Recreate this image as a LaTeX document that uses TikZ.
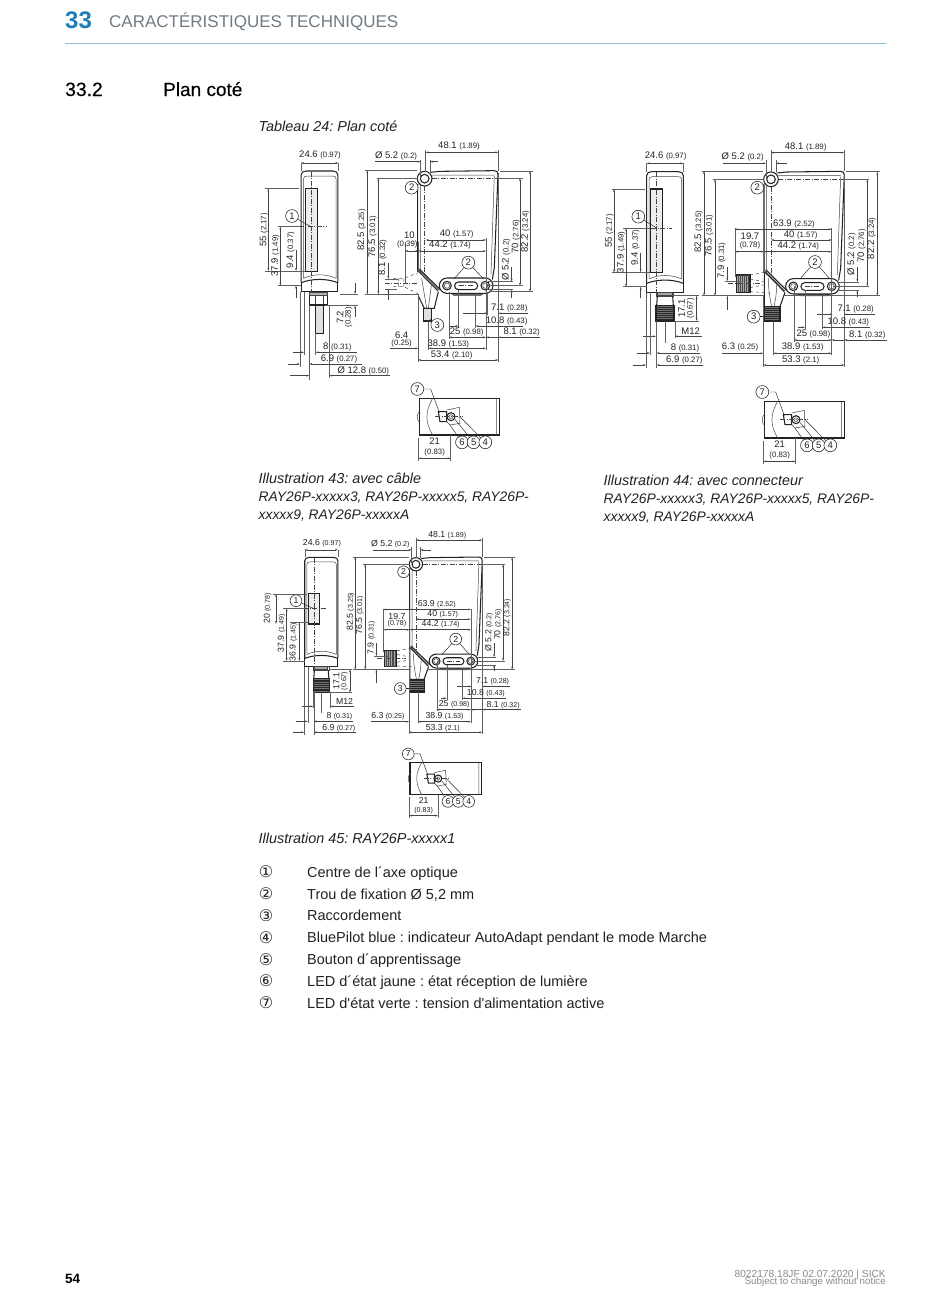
\documentclass[tikz,border=0pt]{standalone}
\usepackage{fontspec}
\setmainfont{Liberation Sans}[Ligatures=TeXOff]
\newfontfamily\symfont{DejaVu Sans}
\newfontfamily\medfont{Liberation Sans}[FakeBold=0.25]
\usetikzlibrary{arrows.meta}
\definecolor{sickblue}{HTML}{1F7DB8}
\definecolor{headgray}{HTML}{6F7B85}
\definecolor{rulecol}{HTML}{8ABBDC}
\definecolor{ink}{HTML}{222222}
\definecolor{dimcol}{HTML}{444444}
\definecolor{footgray}{HTML}{8A8A8A}
\newcounter{nn}
\def\fs{9.5}\def\fss{7.8}\def\zs{0.3333}
\newcommand\smv[1]{{\fontsize{\fss}{\fss}\selectfont #1}}
\newcommand\lab[2]{\stepcounter{nn}\node[dimtext] (n\thenn) at (#1) {#2};}
\newcommand\vlab[2]{\stepcounter{nn}\node[dimtext,rotate=90] (n\thenn) at (#1) {#2};}
\newcommand\call[3]{\node[callout] (#1) at (#2) {#3};}
\newcommand\hdim[3]{\draw[dimline,{Stealth[length=3pt,width=1.8pt]}-{Stealth[length=3pt,width=1.8pt]}] (#2,#1) -- (#3,#1);}
\newcommand\vdim[3]{\draw[dimline,{Stealth[length=3pt,width=1.8pt]}-{Stealth[length=3pt,width=1.8pt]}] (#1,#2) -- (#1,#3);}
\newcommand\hout[5]{\draw[dimline,-{Stealth[length=3pt,width=1.8pt]}] (#2,#1) -- (#3,#1);\draw[dimline,-{Stealth[length=3pt,width=1.8pt]}] (#5,#1) -- (#4,#1);}
\newcommand\vout[5]{\draw[dimline,-{Stealth[length=3pt,width=1.8pt]}] (#1,#2) -- (#1,#3);\draw[dimline,-{Stealth[length=3pt,width=1.8pt]}] (#1,#5) -- (#1,#4);}
\newcommand\ext[2]{\draw[extline] (#1) -- (#2);}
\newcommand\sidebody[2]{%
  \draw[thin1] (147,432) -- (147,135) .. controls (147,128) and (150,125) .. (157,125) -- (235,125) .. controls (242,125) and (245,128) .. (245,135) -- (245,432);
  \draw[thin1] (147,432) .. controls (175,418) and (215,418) .. (245,432);
  \draw[bodyline] (140,445) -- (140,122) .. controls (140,114) and (146,110) .. (155,110) -- (235,110) .. controls (244,110) and (250,114) .. (250,122) -- (250,445);
  \draw[bodyline] (140,445) .. controls (175,432) and (215,432) .. (250,445);
  \draw[bodyline] (140,445) -- (140,472) -- (250,472) -- (250,445);
  \draw[bodyline,fill=black!7] (152,#1) rectangle (188,#2);
  \draw[cline] (170,112) -- (170,472);
}
\newcommand\frontbody{%
  \draw[thin1] (535,122) -- (722,122) (722,125) -- (712,420) (500,152) -- (500,420);
  \draw[bodyline] (492,412) -- (492,150) (530,114) -- (560,111) -- (722,109) .. controls (730,109) and (733,113) .. (733,120) -- (722,400) -- (716,436);
  \draw[cline] (535,133) -- (805,133) (513,155) -- (513,420);
  \draw[bodyline,fill=white] (513,133) circle[radius=22];
  \draw[bodyline] (513,133) circle[radius=13];
  \draw[thin1,fill=black!60] (590,475) -- (600,483) -- (682,483) -- (692,475) -- cycle;
  \draw[bodyline,fill=white,rounded corners=\zs*23pt] (557,431) rectangle (718,477);
  \foreach \c in {580,695}{\draw[bodyline] (\c,454) circle[radius=13];\draw[thin1] (\c,454) circle[radius=8];}
  \draw[bodyline,rounded corners=\zs*11pt] (603,443) rectangle (672,466);
  \draw[cline] (615,454) -- (660,454);
  \draw[bodyline] (492,408) -- (553,470) (497,404) -- (560,466);
  \draw[thin1] (494,406) -- (556,468);
}
\newcommand\detailbox{%
  \draw[bodyline] (58,70) rectangle (298,180);
  \draw[thin1] (290,70) -- (290,180) (98,70) .. controls (75,110) and (75,140) .. (98,180);
  \draw[thin1] (58,110) .. controls (50,115) and (50,135) .. (58,142);
  \draw[bodyline] (115,110) -- (140,110) -- (140,140) -- (120,140) -- cycle;
  \draw[thin1] (140,105) -- (178,97) -- (180,145) -- (150,150) -- (140,140);
  \draw[bodyline] (153,125) circle[radius=12];
  \draw[thin1] (153,125) circle[radius=6];
  \draw[cline] (105,125) -- (190,125);
  \call{d7}{52,42}{7}\call{d6}{186,202}{6}\call{d5}{221,202}{5}\call{d4}{256,202}{4}
  \coordinate (d7e) at (118,112);\coordinate (d6e) at (150,150);\coordinate (d5e) at (165,133);\coordinate (d4e) at (180,125);
  \draw[lead] (d7) -- (92,42) -- (d7e);
  \draw[lead] (d6) -- (d6e);\draw[lead] (d5) -- (d5e);\draw[lead] (d4) -- (d4e);
  \ext{55,188}{55,258}\ext{152,180}{152,258}
  \hdim{250}{55}{152}
  \lab{104,200}{21}\lab{104,233}{\smv{(0.83)}}
}
\newcommand\connectorview{%
  \draw[thin1] (168,472) rectangle (220,484);
  \draw[thin1,fill=black!35] (172,472) rectangle (216,480);
  \draw[bodyline] (172,484) -- (170,512) (218,484) -- (220,512);
  \draw[bodyline,fill=black!55] (168,512) rectangle (222,558);
  \foreach \y in {516,522,...,556}{\draw[line width=.4pt,black!85] (168,\y) -- (222,\y);}
  \ext{140,85}{140,110}\ext{250,85}{250,110}
  \hdim{85}{140}{250}
  \lab{197,62}{24.6 \smv{(0.97)}}
  \ext{220,482}{298,482}\ext{222,558}{298,558}
  \vdim{290}{482}{558}
  \vlab{245,520}{17.1}\vlab{272,520}{\smv{(0.67)}}
  \ext{168,558}{168,610}\ext{225,558}{225,610}
  \hout{604}{130}{168}{225}{305}
  \lab{272,589}{M12}
  \ext{150,472}{150,660}\ext{170,558}{170,698}\ext{138,472}{138,698}\ext{195,558}{195,625}
  \hout{654}{110}{150}{170}{300}
  \lab{255,638}{8 \smv{(0.31)}}
  \hout{690}{100}{138}{170}{310}
  \lab{253,675}{6.9 \smv{(0.27)}}
}
\newcommand\connectorfront{%
  \frontbody
  \draw[bodyline] (493,412) -- (493,515) -- (540,515) -- (555,472);
  \draw[thin1] (505,430) .. controls (505,470) and (512,500) .. (515,515) (530,450) .. controls (530,480) and (525,500) .. (522,515);
  \draw[bodyline,fill=black!55] (493,515) rectangle (540,558);
  \foreach \y in {519,525,...,555}{\draw[line width=.4pt,black!85] (493,\y) -- (540,\y);}
  \draw[dashed,thin1] (450,420) -- (493,412) (450,470) -- (510,474) (450,432) -- (490,440) (450,458) -- (490,450);
  \draw[bodyline,fill=black!35] (410,420) rectangle (450,472);
  \foreach \x in {415,421,...,445}{\draw[line width=.4pt,black!70] (\x,420) -- (\x,472);}
  \draw[cline] (385,446) -- (480,446);
  \ext{513,45}{513,112}\ext{733,45}{733,108}
  \hdim{53}{513}{733}
  \lab{617,35}{48.1 \smv{(1.89)}}
  \ext{498,75}{498,130}\ext{528,75}{528,112}
  \hout{85}{370}{498}{528}{562}
  \lab{428,65}{Ø 5.2 \smv{(0.2)}}
  \ext{305,108}{490,108}\ext{305,482}{493,482}
  \vdim{312}{108}{482}
  \vlab{296,290}{82.5 \smv{(3.25)}}
  \ext{338,133}{492,133}
  \vdim{345}{133}{482}
  \vlab{327,302}{76.5 \smv{(3.01)}}
  \ext{375,438}{420,438}\ext{375,482}{410,482}
  \vout{382}{395}{438}{482}{525}
  \vlab{365,377}{7.9 \smv{(0.31)}}
  \ext{405,280}{405,425}\ext{492,280}{492,412}
  \hdim{283}{405}{695}
  \hdim{350}{405}{492}
  \lab{450,305}{19.7}\lab{450,331}{\smv{(0.78)}}
  \lab{582,267}{63.9 \smv{(2.52)}}
  \hdim{315}{513}{695}
  \lab{602,300}{40 \smv{(1.57)}}
  \hdim{350}{492}{695}
  \lab{595,333}{44.2 \smv{(1.74)}}
  \ext{695,280}{695,430}
  \call{a2}{472,158}{2}\call{b2}{645,381}{2}\call{c3}{461,545}{3}
  \coordinate (b2l) at (600,432);\coordinate (b2r) at (690,432);\coordinate (c3e) at (495,545);\coordinate (a2e) at (498,145);
  \draw[lead] (a2) -- (a2e);\draw[lead] (b2) -- (b2l);\draw[lead] (b2) -- (b2r);\draw[lead] (c3) -- (c3e);
  \ext{715,441}{778,441}\ext{715,466}{778,466}
  \vout{772}{395}{441}{466}{486}
  \vlab{755,358}{Ø 5.2 \smv{(0.2)}}
  \ext{735,133}{808,133}\ext{700,454}{808,454}
  \vdim{802}{133}{454}
  \vlab{785,333}{70 \smv{(2.76)}}
  \ext{738,110}{840,110}\ext{550,482}{840,482}
  \vdim{832}{110}{482}
  \vlab{815,310}{82.2 \smv{(3.24)}}
  \ext{733,120}{733,695}
  \hout{538}{650}{698}{733}{825}
  \lab{767,522}{7.1 \smv{(0.28)}}
  \ext{615,466}{615,582}\ext{667,482}{667,582}
  \hout{577}{595}{615}{667}{810}
  \lab{745,562}{10.8 \smv{(0.43)}}
  \ext{582,454}{582,620}\ext{695,430}{695,660}
  \hdim{615}{582}{695}
  \lab{640,598}{25 \smv{(0.98)}}
  \draw[dimline,-{Stealth[length=3pt,width=1.8pt]}] (860,615) -- (733,615);
  \draw[dimline,-{Stealth[length=3pt,width=1.8pt]}] (733,615) -- (695,615);
  \lab{802,600}{8.1 \smv{(0.32)}}
  \ext{490,482}{490,695}\ext{520,558}{520,660}
  \hdim{655}{520}{695}
  \draw[dimline,-{Stealth[length=3pt,width=1.8pt]}] (365,655) -- (490,655);
  \lab{608,637}{38.9 \smv{(1.53)}}
  \lab{420,637}{6.3 \smv{(0.25)}}
  \hdim{690}{490}{733}
  \lab{602,675}{53.3 \smv{(2.1)}}
}
\tikzset{
  bodyline/.style={draw=ink,line width=1.05pt},
  thin1/.style={draw=dimcol,line width=.5pt},
  cline/.style={draw=dimcol,line width=.4pt,dash pattern=on 5pt off 1.5pt on 1pt off 1.5pt},
  dimline/.style={draw=dimcol,line width=.45pt},
  extline/.style={draw=dimcol!85,line width=.38pt},
  lead/.style={draw=ink,line width=.45pt},
  dimtext/.style={inner sep=0pt,text=ink,font=\fontsize{\fs}{\fs}\selectfont},
  callout/.style={circle,draw=ink,line width=.55pt,fill=white,inner sep=0pt,minimum size=\fs*1.35pt,text=ink,font=\fontsize{\fs}{\fs}\selectfont},
  body14/.style={anchor=base west,inner sep=0pt,text=ink,font=\fontsize{14.5}{16}\selectfont},
  cap14/.style={anchor=base west,inner sep=0pt,text=ink,font=\fontsize{14.4}{16}\selectfont\itshape},
  capref/.style={anchor=base west,inner sep=0pt,text=ink,font=\fontsize{13.85}{16}\selectfont\itshape},
  legnum/.style={anchor=base,inner sep=0pt,text=ink,font=\fontsize{16}{16}\symfont},
}
\begin{document}
\frenchspacing
\begin{tikzpicture}[x=1pt,y=-1pt]
\useasboundingbox (0,0) rectangle (950,1291);
\fill[white] (0,0) rectangle (950,1291);
\node[anchor=base west,inner sep=0pt,text=sickblue,font=\fontsize{24}{24}\selectfont\bfseries] (chap) at (65,28) {33};
\node[anchor=base west,inner sep=0pt,text=headgray,font=\fontsize{17}{20}\selectfont] (chaptitle) at (109,27) {CARACTÉRISTIQUES TECHNIQUES};
\draw[rulecol,line width=.8pt] (65,43.5) -- (886,43.5);
\node[anchor=base west,inner sep=0pt,text=black,font=\fontsize{19.3}{20}\medfont] (secnum) at (65,96) {33.2};
\node[anchor=base west,inner sep=0pt,text=black,font=\fontsize{19}{20}\medfont] (sectitle) at (163,96) {Plan coté};
\node[cap14] (tab) at (258.5,131) {Tableau 24: Plan coté};
% ILLUSTRATION 43
\begin{scope}[shift={(250pt,-135pt)},x=0.3333pt,y=-0.3333pt]
  \begin{scope}[shift={(13.5,-2)}]\sidebody{162}{412}\end{scope}
  \draw[cline] (120,275) -- (230,275);
  \draw[bodyline] (178,472) rectangle (232,510);
  \draw[thin1,fill=black!30] (178,472) rectangle (232,480);
  \draw[thin1] (197,480) -- (197,510) (220,480) -- (220,510);
  \draw[bodyline,fill=black!12] (197,510) rectangle (220,595);
  \ext{153,84}{153,108}\ext{265,84}{265,108}
  \hdim{84}{153}{265}
  \lab{210,60}{24.6 \smv{(0.97)}}
  \ext{45,160}{148,160}\ext{45,408}{165,408}
  \vdim{55}{160}{408}
  \vlab{42,285}{55 \smv{(2.17)}}
  \ext{85,275}{150,275}\ext{85,452}{153,452}
  \vdim{91}{275}{452}
  \vlab{76,362}{37.9 \smv{(1.49)}}
  \vout{138}{345}{408}{452}{488}
  \vlab{122,345}{9.4 \smv{(0.37)}}
  \call{s1}{126,243}{1}\coordinate (s1e) at (183,275);\draw[lead] (s1) -- (s1e);
  \ext{150,472}{150,695}\ext{162,472}{162,660}\ext{178,510}{178,735}\ext{197,595}{197,660}\ext{238,510}{238,728}
  \ext{270,477}{325,477}\ext{225,512}{325,512}
  \vout{315}{445}{477}{512}{545}
  \vlab{270,547}{7.2}\vlab{296,547}{\smv{(0.28)}}
  \hout{652}{130}{162}{197}{320}
  \lab{262,637}{8 \smv{(0.31)}}
  \hout{687}{115}{150}{178}{335}
  \lab{267,672}{6.9 \smv{(0.27)}}
  \hout{722}{120}{178}{238}{420}
  \lab{340,707}{Ø 12.8 \smv{(0.50)}}
  \begin{scope}[shift={(11,-2)}]\frontbody\end{scope}
  \draw[bodyline] (505,483) -- (523,520) -- (553,520) -- (565,470);
  \draw[thin1] (515,430) -- (530,520) (545,445) -- (535,520);
  \draw[bodyline,fill=black!12] (520,520) rectangle (545,558);
  \draw[dashed,thin1] (430,430) -- (462,430) -- (505,413) (430,455) -- (462,455) -- (505,477) (462,430) -- (462,455) (445,430) -- (445,455);
  \draw[cline] (405,446) -- (500,446);
  \ext{527,45}{527,112}\ext{745,45}{745,108}
  \hdim{52}{527}{745}
  \lab{627,33}{48.1 \smv{(1.89)}}
  \ext{512,75}{512,130}\ext{540,75}{540,112}
  \hout{80}{375}{512}{540}{565}
  \lab{438,64}{Ø 5.2 \smv{(0.2)}}
  \ext{345,106}{500,106}\ext{345,478}{505,478}
  \vdim{352}{106}{478}
  \vlab{335,285}{82.5 \smv{(3.25)}}
  \ext{380,130}{505,130}
  \vdim{385}{130}{478}
  \vlab{368,305}{76.5 \smv{(3.01)}}
  \ext{405,432}{445,432}\ext{405,462}{440,462}
  \vout{415}{385}{432}{462}{495}
  \vlab{398,368}{8.1 \smv{(0.32)}}
  \ext{465,322}{465,445}\ext{505,322}{505,408}\ext{708,310}{708,430}
  \hdim{348}{465}{505}
  \lab{478,302}{10}\lab{472,327}{\smv{(0.39)}}
  \hdim{315}{527}{708}
  \lab{620,298}{40 \smv{(1.57)}}
  \hdim{348}{505}{708}
  \lab{600,331}{44.2 \smv{(1.74)}}
  \call{t2}{485,158}{2}\call{u2}{655,383}{2}\call{v3}{562,570}{3}
  \coordinate (t2e) at (510,145);\coordinate (u2l) at (612,432);\coordinate (u2r) at (701,432);\coordinate (v3e) at (540,552);
  \draw[lead] (t2) -- (t2e);\draw[lead] (u2) -- (u2l);\draw[lead] (u2) -- (u2r);\draw[lead] (v3) -- (v3e);
  \ext{715,440}{790,440}\ext{715,462}{790,462}
  \vout{785}{395}{440}{464}{490}
  \vlab{768,375}{Ø 5.2 \smv{(0.2)}}
  \ext{745,130}{820,130}\ext{712,452}{820,452}
  \vdim{810}{130}{452}
  \vlab{798,305}{70 \smv{(2.76)}}
  \ext{750,108}{848,108}\ext{720,470}{848,470}
  \vdim{840}{108}{470}
  \vlab{826,290}{82.2 \smv{(3.24)}}
  \ext{745,115}{745,680}
  \hout{535}{640}{712}{745}{835}
  \lab{778,520}{7.1 \smv{(0.28)}}
  \ext{625,465}{625,578}\ext{677,482}{677,578}\ext{712,475}{712,540}
  \hout{573}{600}{625}{677}{820}
  \lab{770,558}{10.8 \smv{(0.43)}}
  \ext{597,470}{597,612}\ext{708,430}{708,645}
  \hdim{607}{597}{708}
  \lab{650,590}{25 \smv{(0.98)}}
  \draw[dimline,-{Stealth[length=3pt,width=1.8pt]}] (870,607) -- (745,607);
  \draw[dimline,-{Stealth[length=3pt,width=1.8pt]}] (745,607) -- (708,607);
  \lab{815,591}{8.1 \smv{(0.32)}}
  \ext{505,478}{505,680}\ext{535,558}{535,645}
  \hdim{640}{535}{708}
  \draw[dimline,-{Stealth[length=3pt,width=1.8pt]}] (420,640) -- (505,640);
  \lab{595,627}{38.9 \smv{(1.53)}}
  \lab{455,600}{6.4}\lab{455,625}{\smv{(0.25)}}
  \hdim{675}{505}{745}
  \lab{605,660}{53.4 \smv{(2.10)}}
\end{scope}
\begin{scope}[shift={(400pt,-375pt)},x=0.3333pt,y=-0.3333pt]\detailbox\end{scope}
% ILLUSTRATION 44
\begin{scope}[shift={(600pt,-135pt)},x=0.3333pt,y=-0.3333pt]
  \sidebody{162}{412}
  \draw[cline] (100,279) -- (215,279);
  \ext{35,162}{135,162}\ext{35,412}{150,412}
  \vdim{42}{162}{412}
  \vlab{28,288}{55 \smv{(2.17)}}
  \ext{70,279}{150,279}\ext{70,455}{140,455}
  \vdim{78}{279}{455}
  \vlab{63,352}{37.9 \smv{(1.49)}}
  \vout{122}{355}{412}{455}{490}
  \vlab{106,338}{9.4 \smv{(0.37)}}
  \call{p1}{115,245}{1}\coordinate (p1e) at (170,279);\draw[lead] (p1) -- (p1e);
  \connectorview
  \connectorfront
\end{scope}
\begin{scope}[shift={(745pt,-378pt)},x=0.3333pt,y=-0.3333pt]\detailbox\end{scope}
% ILLUSTRATION 45
\begin{scope}[shift={(262.5pt,-524.15pt)},x=0.3016pt,y=-0.3016pt]
  \def\fs{8.7}\def\fss{7.1}\def\zs{0.3016}
  \sidebody{229}{331}
  \connectorview
\end{scope}
\begin{scope}[shift={(261.2pt,-524.15pt)},x=0.3016pt,y=-0.3016pt]
  \def\fs{8.7}\def\fss{7.1}\def\zs{0.3016}
  \connectorfront
\end{scope}
\begin{scope}[shift={(250pt,-525pt)},x=0.3333pt,y=-0.3333pt]
  \def\fs{8.7}\def\fss{7.1}
  \draw[cline] (160,250) -- (232,250);
  \ext{70,207}{172,207}\ext{100,250}{165,250}\ext{100,408}{165,408}\ext{120,292}{175,292}
  \vdim{78}{207}{297}
  \vlab{53,250}{20 \smv{(0.78)}}
  \vdim{110}{250}{408}
  \vlab{95,325}{37.9 \smv{(1.49)}}
  \vdim{148}{292}{408}
  \vlab{130,352}{36.9 \smv{(1.45)}}
  \call{r1}{138,227}{1}\coordinate (r1e) at (190,250);\draw[lead] (r1) -- (r1e);
\end{scope}
\begin{scope}[shift={(392.8pt,-741.5pt)},x=0.2966pt,y=-0.2966pt]
  \def\fs{8.7}\def\fss{7.1}
  \detailbox
\end{scope}
% captions
\node[cap14] (c43a) at (258.5,483.5) {Illustration 43: avec câble};
\node[capref] (c43b) at (258.5,501.5) {RAY26P-xxxxx3, RAY26P-xxxxx5, RAY26P-};
\node[capref] (c43c) at (258.5,519.5) {xxxxx9, RAY26P-xxxxxA};
\node[cap14] (c44a) at (603.5,485.5) {Illustration 44: avec connecteur};
\node[capref] (c44b) at (603.5,503.5) {RAY26P-xxxxx3, RAY26P-xxxxx5, RAY26P-};
\node[capref] (c44c) at (603.5,521.5) {xxxxx9, RAY26P-xxxxxA};
\node[cap14] (c45) at (258.5,843) {Illustration 45: RAY26P-xxxxx1};
% legend
\node[legnum] (l1) at (266,877.5) {①};\node[body14] (t1) at (307,877) {Centre de l´axe optique};
\node[legnum] (l2) at (266,899.5) {②};\node[body14] (t2) at (307,899) {Trou de fixation Ø 5,2 mm};
\node[legnum] (l3) at (266,921) {③};\node[body14] (t3) at (307,920.5) {Raccordement};
\node[legnum] (l4) at (266,943) {④};\node[body14] (t4) at (307,942.5) {BluePilot blue : indicateur AutoAdapt pendant le mode Marche};
\node[legnum] (l5) at (266,965) {⑤};\node[body14] (t5) at (307,964.5) {Bouton d´apprentissage};
\node[legnum] (l6) at (266,986.5) {⑥};\node[body14] (t6) at (307,986) {LED d´état jaune : état réception de lumière};
\node[legnum] (l7) at (266,1008.5) {⑦};\node[body14] (t7) at (307,1008) {LED d'état verte : tension d'alimentation active};
% footer
\node[anchor=base west,inner sep=0pt,text=black,font=\fontsize{13.5}{14}\selectfont\bfseries] (page) at (65,1283) {54};
\node[anchor=base east,inner sep=0pt,text=footgray,font=\fontsize{10.2}{10}\selectfont] (f1) at (886,1277) {8022178.18JF 02.07.2020 | SICK};
\node[anchor=base east,inner sep=0pt,text=footgray,font=\fontsize{9.8}{10}\selectfont] (f2) at (886,1284) {Subject to change without notice};
\end{tikzpicture}
\end{document}
